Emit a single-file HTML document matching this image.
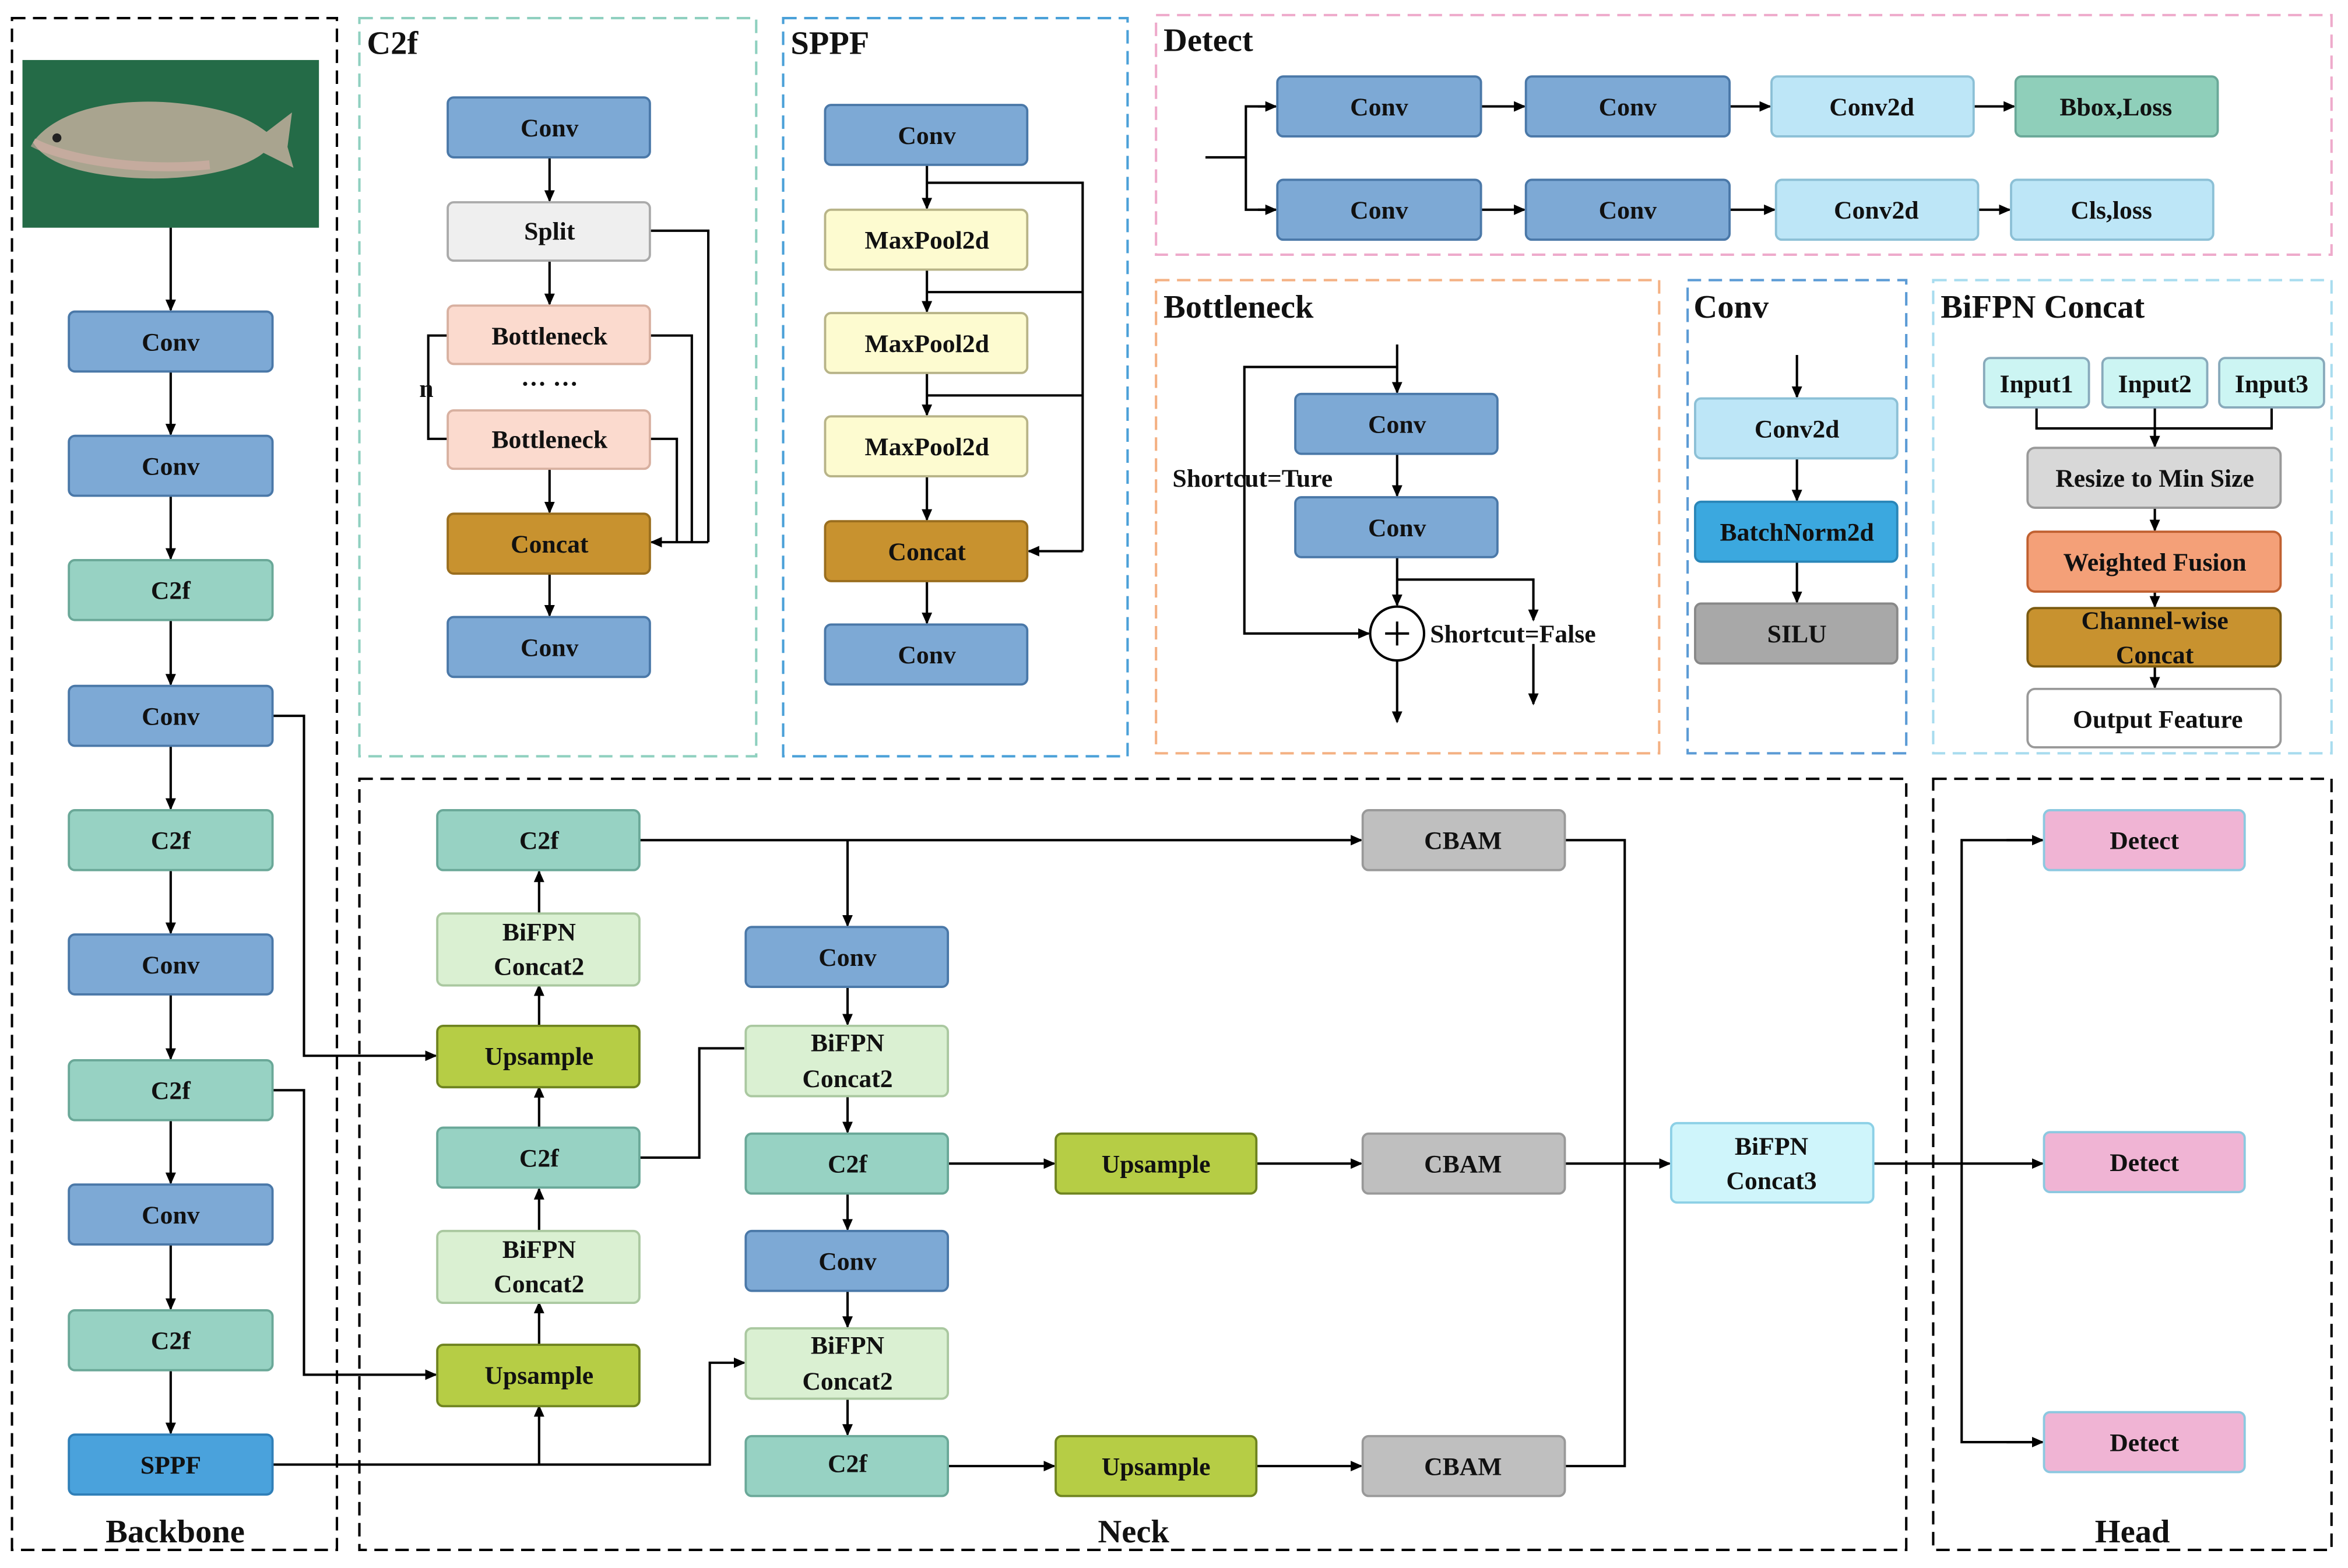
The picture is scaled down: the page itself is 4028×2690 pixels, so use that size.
<!DOCTYPE html>
<html><head><meta charset="utf-8"><style>
html,body{margin:0;padding:0;background:#fff;}
svg{display:block;}
text{font-family:"Liberation Serif",serif;font-weight:bold;fill:#111;}
</style></head><body>
<svg width="4028" height="2690" viewBox="0 0 1568 1047" xmlns="http://www.w3.org/2000/svg">
<defs>
<marker id="a" markerWidth="8" markerHeight="8" refX="7" refY="4" orient="auto" markerUnits="userSpaceOnUse"><path d="M0,0.5 L8,4 L0,7.5 z" fill="#000"/></marker>
</defs>
<rect width="1568" height="1047" fill="#fff"/>
<g fill="none" stroke-width="1.6" stroke-dasharray="9,5">
<rect x="8" y="12" width="217" height="1023" stroke="#000"/>
<rect x="240" y="12" width="265" height="493" stroke="#8fd0bf"/>
<rect x="523" y="12" width="230" height="493" stroke="#4aa0d8"/>
<rect x="772" y="10" width="785" height="160" stroke="#eeaacb"/>
<rect x="772" y="187" width="336" height="316" stroke="#f4b183"/>
<rect x="1127" y="187" width="146" height="316" stroke="#5b9bd5"/>
<rect x="1291" y="187" width="266" height="316" stroke="#a8dcef"/>
<rect x="240" y="520" width="1033" height="515" stroke="#000"/>
<rect x="1291" y="520" width="266" height="515" stroke="#000"/>
</g>
<g font-size="22">
<text x="245" y="36">C2f</text>
<text x="528" y="36">SPPF</text>
<text x="777" y="34">Detect</text>
<text x="777" y="212">Bottleneck</text>
<text x="1131" y="212">Conv</text>
<text x="1296" y="212">BiFPN Concat</text>
<text x="117" y="1030" text-anchor="middle">Backbone</text>
<text x="757" y="1030" text-anchor="middle">Neck</text>
<text x="1424" y="1030" text-anchor="middle">Head</text>
</g>
<rect x="15" y="40" width="198" height="112" fill="#246b47"/>
<path d="M22,95 C40,70 90,62 140,72 C160,76 170,82 178,88 L195,75 L192,98 L196,112 L176,102 C160,115 120,122 80,118 C50,115 30,108 22,95 z" fill="#a9a48f"/>
<path d="M22,95 C40,105 90,115 140,110" stroke="#d9b0a8" stroke-width="6" fill="none" opacity="0.6"/>
<circle cx="38" cy="92" r="3" fill="#222"/>
<g stroke="#000" stroke-width="1.6" fill="none">
<line x1="114" y1="152" x2="114" y2="207" marker-end="url(#a)"/>
<line x1="114" y1="248" x2="114" y2="290" marker-end="url(#a)"/>
<line x1="114" y1="331" x2="114" y2="373" marker-end="url(#a)"/>
<line x1="114" y1="414" x2="114" y2="457" marker-end="url(#a)"/>
<line x1="114" y1="498" x2="114" y2="540" marker-end="url(#a)"/>
<line x1="114" y1="581" x2="114" y2="623" marker-end="url(#a)"/>
<line x1="114" y1="664" x2="114" y2="707" marker-end="url(#a)"/>
<line x1="114" y1="748" x2="114" y2="790" marker-end="url(#a)"/>
<line x1="114" y1="831" x2="114" y2="874" marker-end="url(#a)"/>
<line x1="114" y1="915" x2="114" y2="957" marker-end="url(#a)"/>
<polyline points="182,478 203,478 203,705 291,705" marker-end="url(#a)"/>
<polyline points="182,728 203,728 203,918 291,918" marker-end="url(#a)"/>
<polyline points="182,978 474,978 474,910 497,910" marker-end="url(#a)"/>
<line x1="360" y1="978" x2="360" y2="939" marker-end="url(#a)"/>
<line x1="360" y1="898" x2="360" y2="870" marker-end="url(#a)"/>
<line x1="360" y1="822" x2="360" y2="794" marker-end="url(#a)"/>
<line x1="360" y1="753" x2="360" y2="726" marker-end="url(#a)"/>
<line x1="360" y1="685" x2="360" y2="658" marker-end="url(#a)"/>
<line x1="360" y1="610" x2="360" y2="582" marker-end="url(#a)"/>
<polyline points="427,773 467,773 467,700 497,700"/>
<line x1="427" y1="561" x2="909" y2="561" marker-end="url(#a)"/>
<line x1="566" y1="561" x2="566" y2="618" marker-end="url(#a)"/>
<line x1="566" y1="659" x2="566" y2="684" marker-end="url(#a)"/>
<line x1="566" y1="732" x2="566" y2="756" marker-end="url(#a)"/>
<line x1="566" y1="797" x2="566" y2="821" marker-end="url(#a)"/>
<line x1="566" y1="862" x2="566" y2="886" marker-end="url(#a)"/>
<line x1="566" y1="934" x2="566" y2="958" marker-end="url(#a)"/>
<line x1="633" y1="777" x2="704" y2="777" marker-end="url(#a)"/>
<line x1="839" y1="777" x2="909" y2="777" marker-end="url(#a)"/>
<line x1="633" y1="979" x2="704" y2="979" marker-end="url(#a)"/>
<line x1="839" y1="979" x2="909" y2="979" marker-end="url(#a)"/>
<polyline points="1045,561 1085,561 1085,979 1045,979"/>
<line x1="1045" y1="777" x2="1115" y2="777" marker-end="url(#a)"/>
<line x1="1251" y1="777" x2="1364" y2="777" marker-end="url(#a)"/>
<polyline points="1364,561 1310,561 1310,963 1364,963"/>
<line x1="1340" y1="561" x2="1364" y2="561" marker-end="url(#a)"/>
<line x1="1340" y1="963" x2="1364" y2="963" marker-end="url(#a)"/>
<line x1="367" y1="105" x2="367" y2="134" marker-end="url(#a)"/>
<line x1="367" y1="174" x2="367" y2="203" marker-end="url(#a)"/>
<line x1="367" y1="313" x2="367" y2="342" marker-end="url(#a)"/>
<line x1="367" y1="383" x2="367" y2="411" marker-end="url(#a)"/>
<polyline points="434,154 473,154 473,362"/>
<polyline points="434,224 462,224 462,362"/>
<polyline points="434,293 452,293 452,362"/>
<line x1="473" y1="362" x2="435" y2="362" marker-end="url(#a)"/>
<polyline points="299,224 286,224 286,293 299,293"/>
<line x1="619" y1="110" x2="619" y2="139" marker-end="url(#a)"/>
<line x1="619" y1="180" x2="619" y2="208" marker-end="url(#a)"/>
<line x1="619" y1="249" x2="619" y2="277" marker-end="url(#a)"/>
<line x1="619" y1="318" x2="619" y2="347" marker-end="url(#a)"/>
<line x1="619" y1="388" x2="619" y2="416" marker-end="url(#a)"/>
<polyline points="619,122 723,122 723,368"/>
<polyline points="619,195 723,195"/>
<polyline points="619,264 723,264"/>
<line x1="723" y1="368" x2="687" y2="368" marker-end="url(#a)"/>
<polyline points="805,105 832,105"/>
<polyline points="852,71 832,71 832,140 852,140"/>
<line x1="840" y1="71" x2="852" y2="71" marker-end="url(#a)"/>
<line x1="840" y1="140" x2="852" y2="140" marker-end="url(#a)"/>
<line x1="989" y1="71" x2="1018" y2="71" marker-end="url(#a)"/>
<line x1="1155" y1="71" x2="1182" y2="71" marker-end="url(#a)"/>
<line x1="1318" y1="71" x2="1345" y2="71" marker-end="url(#a)"/>
<line x1="989" y1="140" x2="1018" y2="140" marker-end="url(#a)"/>
<line x1="1155" y1="140" x2="1185" y2="140" marker-end="url(#a)"/>
<line x1="1321" y1="140" x2="1342" y2="140" marker-end="url(#a)"/>
<line x1="933" y1="230" x2="933" y2="262" marker-end="url(#a)"/>
<line x1="933" y1="303" x2="933" y2="331" marker-end="url(#a)"/>
<polyline points="933,245 831,245 831,423 914,423" marker-end="url(#a)"/>
<line x1="933" y1="372" x2="933" y2="404" marker-end="url(#a)"/>
<polyline points="933,387 1024,387 1024,414" marker-end="url(#a)"/>
<line x1="1024" y1="430" x2="1024" y2="470" marker-end="url(#a)"/>
<line x1="933" y1="441" x2="933" y2="482" marker-end="url(#a)"/>
<circle cx="933" cy="423" r="18" fill="#fff"/>
<line x1="925" y1="423" x2="941" y2="423"/>
<line x1="933" y1="415" x2="933" y2="431"/>
<line x1="1200" y1="237" x2="1200" y2="265" marker-end="url(#a)"/>
<line x1="1200" y1="306" x2="1200" y2="334" marker-end="url(#a)"/>
<line x1="1200" y1="375" x2="1200" y2="402" marker-end="url(#a)"/>
<polyline points="1360,272 1360,286 1517,286 1517,272"/>
<line x1="1439" y1="272" x2="1439" y2="298" marker-end="url(#a)"/>
<line x1="1439" y1="339" x2="1439" y2="354" marker-end="url(#a)"/>
<line x1="1439" y1="395" x2="1439" y2="405" marker-end="url(#a)"/>
<line x1="1439" y1="445" x2="1439" y2="459" marker-end="url(#a)"/>
</g>
<g font-size="17">
<text x="783" y="325">Shortcut=Ture</text>
<text x="955" y="429">Shortcut=False</text>
<text x="280" y="265">n</text>
<text x="367" y="262" text-anchor="middle">··· ···</text>
</g>
<g stroke-width="1.5" font-size="17">
<g stroke="#4a78a8" fill="#7da9d5">
<rect x="46" y="208" width="136" height="40" rx="4"/>
<rect x="46" y="291" width="136" height="40" rx="4"/>
<rect x="46" y="458" width="136" height="40" rx="4"/>
<rect x="46" y="624" width="136" height="40" rx="4"/>
<rect x="46" y="791" width="136" height="40" rx="4"/>
<rect x="299" y="65" width="135" height="40" rx="4"/>
<rect x="299" y="412" width="135" height="40" rx="4"/>
<rect x="551" y="70" width="135" height="40" rx="4"/>
<rect x="551" y="417" width="135" height="40" rx="4"/>
<rect x="853" y="51" width="136" height="40" rx="4"/>
<rect x="1019" y="51" width="136" height="40" rx="4"/>
<rect x="853" y="120" width="136" height="40" rx="4"/>
<rect x="1019" y="120" width="136" height="40" rx="4"/>
<rect x="865" y="263" width="135" height="40" rx="4"/>
<rect x="865" y="332" width="135" height="40" rx="4"/>
<rect x="498" y="619" width="135" height="40" rx="4"/>
<rect x="498" y="822" width="135" height="40" rx="4"/>
</g>
<g stroke="#6aa898" fill="#97d2c3">
<rect x="46" y="374" width="136" height="40" rx="4"/>
<rect x="46" y="541" width="136" height="40" rx="4"/>
<rect x="46" y="708" width="136" height="40" rx="4"/>
<rect x="46" y="875" width="136" height="40" rx="4"/>
<rect x="292" y="541" width="135" height="40" rx="4"/>
<rect x="292" y="753" width="135" height="40" rx="4"/>
<rect x="498" y="757" width="135" height="40" rx="4"/>
<rect x="498" y="959" width="135" height="40" rx="4"/>
</g>
<rect x="46" y="958" width="136" height="40" rx="4" stroke="#2f7fb8" fill="#4aa2dc"/>
<rect x="1346" y="51" width="135" height="40" rx="4" stroke="#6aa898" fill="#8fcfba"/>
<g stroke="#8cc0d6" fill="#bde6f7">
<rect x="1183" y="51" width="135" height="40" rx="4"/>
<rect x="1186" y="120" width="135" height="40" rx="4"/>
<rect x="1343" y="120" width="135" height="40" rx="4"/>
<rect x="1132" y="266" width="135" height="40" rx="4"/>
</g>
<rect x="1132" y="335" width="135" height="40" rx="4" stroke="#2a86b8" fill="#3ba8df"/>
<rect x="1132" y="403" width="135" height="40" rx="4" stroke="#888" fill="#a8a8a8"/>
<rect x="299" y="135" width="135" height="39" rx="4" stroke="#aaa" fill="#efefef"/>
<rect x="299" y="204" width="135" height="39" rx="4" stroke="#d8b0a0" fill="#fbdace"/>
<rect x="299" y="274" width="135" height="39" rx="4" stroke="#d8b0a0" fill="#fbdace"/>
<rect x="299" y="343" width="135" height="40" rx="4" stroke="#9a6e1e" fill="#c8922f"/>
<rect x="551" y="348" width="135" height="40" rx="4" stroke="#9a6e1e" fill="#c8922f"/>
<g stroke="#b8b488" fill="#fdfbd0">
<rect x="551" y="140" width="135" height="40" rx="4"/>
<rect x="551" y="209" width="135" height="40" rx="4"/>
<rect x="551" y="278" width="135" height="40" rx="4"/>
</g>
<g stroke="#aac8a0" fill="#daf0d2">
<rect x="292" y="610" width="135" height="48" rx="4"/>
<rect x="292" y="822" width="135" height="48" rx="4"/>
<rect x="498" y="685" width="135" height="47" rx="4"/>
<rect x="498" y="887" width="135" height="47" rx="4"/>
</g>
<g stroke="#6f8420" fill="#b6cd45">
<rect x="292" y="685" width="135" height="41" rx="4"/>
<rect x="292" y="898" width="135" height="41" rx="4"/>
<rect x="705" y="757" width="134" height="40" rx="4"/>
<rect x="705" y="959" width="134" height="40" rx="4"/>
</g>
<g stroke="#999" fill="#bfbfbf">
<rect x="910" y="541" width="135" height="40" rx="4"/>
<rect x="910" y="757" width="135" height="40" rx="4"/>
<rect x="910" y="959" width="135" height="40" rx="4"/>
</g>
<rect x="1116" y="750" width="135" height="53" rx="4" stroke="#8cd0e6" fill="#cff5fb"/>
<g stroke="#8cc8e0" fill="#f0b4d4">
<rect x="1365" y="541" width="134" height="40" rx="4"/>
<rect x="1365" y="756" width="134" height="40" rx="4"/>
<rect x="1365" y="943" width="134" height="40" rx="4"/>
</g>
<g stroke="#8ab" fill="#ccf5f3">
<rect x="1325" y="239" width="70" height="33" rx="4"/>
<rect x="1404" y="239" width="70" height="33" rx="4"/>
<rect x="1482" y="239" width="70" height="33" rx="4"/>
</g>
<rect x="1354" y="299" width="169" height="40" rx="5" stroke="#999" fill="#d8d8d8"/>
<rect x="1354" y="355" width="169" height="40" rx="5" stroke="#c06030" fill="#f4a078"/>
<rect x="1354" y="406" width="169" height="39" rx="5" stroke="#7a5a10" fill="#c8922f"/>
<rect x="1354" y="460" width="169" height="39" rx="5" stroke="#999" fill="#fff"/>
<g text-anchor="middle">
<text x="114" y="234">Conv</text><text x="114" y="317">Conv</text><text x="114" y="400">C2f</text>
<text x="114" y="484">Conv</text><text x="114" y="567">C2f</text><text x="114" y="650">Conv</text>
<text x="114" y="734">C2f</text><text x="114" y="817">Conv</text><text x="114" y="901">C2f</text>
<text x="114" y="984">SPPF</text>
<text x="367" y="91">Conv</text><text x="367" y="160">Split</text><text x="367" y="230">Bottleneck</text>
<text x="367" y="299">Bottleneck</text><text x="367" y="369">Concat</text><text x="367" y="438">Conv</text>
<text x="619" y="96">Conv</text><text x="619" y="166">MaxPool2d</text><text x="619" y="235">MaxPool2d</text>
<text x="619" y="304">MaxPool2d</text><text x="619" y="374">Concat</text><text x="619" y="443">Conv</text>
<text x="921" y="77">Conv</text><text x="1087" y="77">Conv</text><text x="1250" y="77">Conv2d</text><text x="1413" y="77">Bbox,Loss</text>
<text x="921" y="146">Conv</text><text x="1087" y="146">Conv</text><text x="1253" y="146">Conv2d</text><text x="1410" y="146">Cls,loss</text>
<text x="933" y="289">Conv</text><text x="933" y="358">Conv</text>
<text x="1200" y="292">Conv2d</text><text x="1200" y="361">BatchNorm2d</text><text x="1200" y="429">SILU</text>
<text x="1360" y="262">Input1</text><text x="1439" y="262">Input2</text><text x="1517" y="262">Input3</text>
<text x="1439" y="325">Resize to Min Size</text><text x="1439" y="381">Weighted Fusion</text>
<text x="1439" y="420">Channel-wise</text><text x="1439" y="443">Concat</text>
<text x="1441" y="486">Output Feature</text>
<text x="360" y="567">C2f</text><text x="360" y="628">BiFPN</text><text x="360" y="651">Concat2</text>
<text x="360" y="711">Upsample</text><text x="360" y="779">C2f</text>
<text x="360" y="840">BiFPN</text><text x="360" y="863">Concat2</text><text x="360" y="924">Upsample</text>
<text x="566" y="645">Conv</text><text x="566" y="702">BiFPN</text><text x="566" y="726">Concat2</text>
<text x="566" y="783">C2f</text><text x="566" y="848">Conv</text>
<text x="566" y="904">BiFPN</text><text x="566" y="928">Concat2</text><text x="566" y="983">C2f</text>
<text x="772" y="783">Upsample</text><text x="772" y="985">Upsample</text>
<text x="977" y="567">CBAM</text><text x="977" y="783">CBAM</text><text x="977" y="985">CBAM</text>
<text x="1183" y="771">BiFPN</text><text x="1183" y="794">Concat3</text>
<text x="1432" y="567">Detect</text><text x="1432" y="782">Detect</text><text x="1432" y="969">Detect</text>
</g>
</g>
</svg>
</body></html>
